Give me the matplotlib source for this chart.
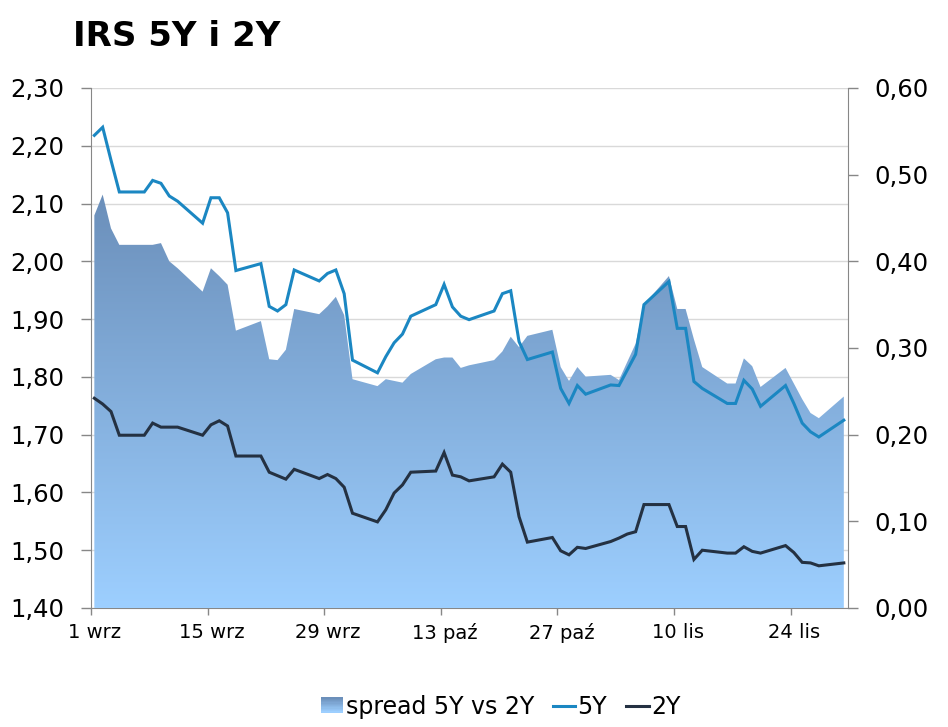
import numpy as np
import pandas as pd
import matplotlib
matplotlib.use("Agg")
import matplotlib.pyplot as plt
import matplotlib.dates as mdates
import matplotlib.transforms as mtransforms
from matplotlib.colors import LinearSegmentedColormap
from matplotlib.patches import Rectangle
from matplotlib.legend_handler import HandlerBase
from matplotlib.ticker import FuncFormatter

plt.rcParams['font.family'] = ['DejaVu Sans']

# business days 1 wrz - 30 lis 2015 (11 lis kept, value carried over)
dates = pd.bdate_range('2015-09-01', '2015-11-30')

irs_5y = [2.218, 2.232, 2.175, 2.120,
          2.120, 2.140, 2.135, 2.113, 2.104,
          2.066, 2.110, 2.110, 2.084, 1.984,
          1.996, 1.922, 1.914, 1.925, 1.985,
          1.966, 1.979, 1.985, 1.944, 1.829,
          1.807, 1.835, 1.859, 1.874, 1.905,
          1.925, 1.960, 1.921, 1.905, 1.899,
          1.914, 1.944, 1.949, 1.861, 1.830,
          1.843, 1.780, 1.754, 1.785, 1.770,
          1.786, 1.785, 1.812, 1.839, 1.925,
          1.965, 1.884, 1.884, 1.792, 1.780,
          1.754, 1.754, 1.794, 1.779, 1.749,
          1.785, 1.754, 1.720, 1.705, 1.696,
          1.725]

irs_2y = [1.763, 1.753, 1.740, 1.699,
          1.699, 1.720, 1.713, 1.713, 1.713,
          1.699, 1.717, 1.724, 1.715, 1.663,
          1.663, 1.635, 1.629, 1.623, 1.640,
          1.624, 1.631, 1.624, 1.609, 1.564,
          1.549, 1.570, 1.599, 1.613, 1.635,
          1.637, 1.669, 1.630, 1.627, 1.620,
          1.627, 1.649, 1.635, 1.558, 1.514,
          1.522, 1.499, 1.492, 1.505, 1.503,
          1.515, 1.521, 1.528, 1.532, 1.579,
          1.579, 1.541, 1.541, 1.484, 1.500,
          1.495, 1.495, 1.506, 1.498, 1.495,
          1.508, 1.496, 1.479, 1.478, 1.473,
          1.478]

spread = [0.453, 0.477, 0.438, 0.419,
          0.419, 0.419, 0.421, 0.400, 0.392,
          0.365, 0.392, 0.383, 0.373, 0.320,
          0.331, 0.287, 0.286, 0.298, 0.345,
          0.339, 0.348, 0.359, 0.338, 0.264,
          0.256, 0.264, 0.262, 0.260, 0.270,
          0.287, 0.289, 0.289, 0.277, 0.280,
          0.286, 0.296, 0.313, 0.301, 0.314,
          0.321, 0.278, 0.262, 0.278, 0.267,
          0.269, 0.263, 0.284, 0.305, 0.350,
          0.383, 0.345, 0.345, 0.310, 0.278,
          0.259, 0.259, 0.288, 0.279, 0.255,
          0.277, 0.259, 0.241, 0.225, 0.219,
          0.244]

tick_dates = pd.to_datetime(['2015-09-01', '2015-09-15', '2015-09-29', '2015-10-13',
                             '2015-10-27', '2015-11-10', '2015-11-24'])
tick_labels = ['1 wrz', '15 wrz', '29 wrz', '13 paź', '27 paź', '10 lis', '24 lis']

c5 = '#1b87c2'
c2 = '#243142'
grid_c = '#d9d9d9'
spine_c = '#878787'
grad = LinearSegmentedColormap.from_list('spr', ['#6b8fba', '#9dcfff'])

# excel puts the points a bit after the tick
x = mdates.date2num(dates) + 0.4
xt = mdates.date2num(tick_dates)

fig = plt.figure(figsize=(9.48, 7.27), dpi=100)
ax = fig.add_axes([0.096, 0.1637, 0.7985, 0.7153])
ax2 = ax.twinx()
ax3 = ax.twinx()

fmt = FuncFormatter(lambda v, p: f"{v:.2f}".replace('.', ','))

# base axis: left scale + grid
ax.set_ylim(1.40, 2.30)
ax.set_yticks(np.arange(1.40, 2.301, 0.10))
ax.yaxis.set_major_formatter(fmt)
ax.grid(axis='y', color=grid_c, lw=1)
ax.set_xlim(x[0] - 0.4, x[-1] + 0.5)
ax.set_xticks(xt)
ax.set_xticklabels(tick_labels)
ax.tick_params(axis='y', labelsize=17.5, length=7, width=1, color=spine_c, pad=12)
ax.tick_params(axis='x', labelsize=14, length=5, width=1, color=spine_c, pad=6)
shift = mtransforms.ScaledTranslation(0.04, 0, fig.dpi_scale_trans)
for lab in ax.get_xticklabels():
    lab.set_transform(lab.get_transform() + shift)
for s in ['top', 'right']:
    ax.spines[s].set_visible(False)
for s in ['left', 'bottom']:
    ax.spines[s].set_color(spine_c)

# spread area with vertical gradient, right scale
ax2.set_ylim(0, 0.60)
ax2.set_yticks(np.arange(0, 0.601, 0.10))
ax2.yaxis.set_major_formatter(fmt)
ax2.tick_params(axis='y', labelsize=17.5, length=7, width=1, color=spine_c, pad=12)
for s in ['top', 'left', 'bottom']:
    ax2.spines[s].set_visible(False)
ax2.spines['right'].set_color(spine_c)
poly = ax2.fill_between(x, 0, spread, facecolor='none', edgecolor='none')
img = ax2.imshow(np.linspace(0, 1, 256).reshape(-1, 1), cmap=grad, aspect='auto',
                 extent=[x[0], x[-1], 0, max(spread)], origin='upper', zorder=1)
img.set_clip_path(poly.get_paths()[0], transform=ax2.transData)
ax2.set_xlim(ax.get_xlim())

# lines on top, left scale
ax3.set_ylim(ax.get_ylim())
ax3.set_xlim(ax.get_xlim())
ax3.set_yticks([])
for s in ax3.spines.values():
    s.set_visible(False)
l5, = ax3.plot(x, irs_5y, color=c5, lw=2.2, solid_joinstyle='miter')
l2, = ax3.plot(x, irs_2y, color=c2, lw=2.2, solid_joinstyle='miter')

fig.text(0.077, 0.9367, 'IRS 5Y i 2Y', fontsize=24.5, fontweight='bold', va='baseline')


class GradientHandler(HandlerBase):
    def create_artists(self, legend, orig_handle, xdescent, ydescent,
                       width, height, fontsize, trans):
        n = 12
        out = []
        for i in range(n):
            y0 = -ydescent + height * (n - 1 - i) / n
            out.append(Rectangle((-xdescent, y0), width, height / n + 0.3,
                                 facecolor=grad(i / (n - 1)), edgecolor='none',
                                 transform=trans))
        return out


proxy = Rectangle((0, 0), 1, 1)
fig.legend([proxy, l5, l2], ['spread 5Y vs 2Y', '5Y', '2Y'],
           handler_map={proxy: GradientHandler()},
           loc='center', bbox_to_anchor=(0.528, 0.028), ncol=3, frameon=False,
           fontsize=17, handlelength=0.95, handleheight=0.6, handletextpad=0.1,
           columnspacing=0.8, borderaxespad=0)

fig.savefig('out.png', dpi=100)
